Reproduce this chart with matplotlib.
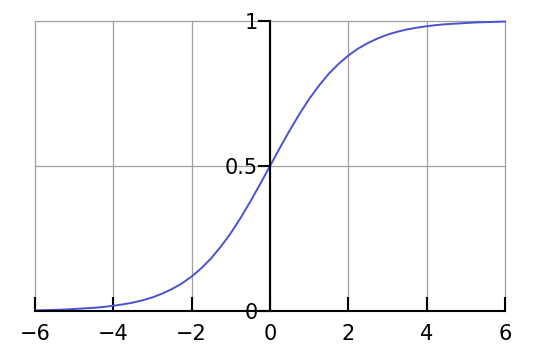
import numpy as np
import matplotlib
matplotlib.use("Agg")
import matplotlib.pyplot as plt

# Curve points
x_vals = np.arange(-6, 6.001, 0.25)
y_vals = [0.002, 0.003, 0.004, 0.005, 0.007, 0.009, 0.011, 0.014, 0.018, 0.023,
          0.029, 0.037, 0.047, 0.060, 0.076, 0.095, 0.119, 0.148, 0.182, 0.223,
          0.269, 0.321, 0.378, 0.438, 0.500,
          0.562, 0.622, 0.679, 0.731, 0.777, 0.818, 0.852, 0.881, 0.905, 0.924,
          0.940, 0.953, 0.963, 0.971, 0.977, 0.982, 0.986, 0.989, 0.991, 0.993,
          0.995, 0.996, 0.997, 0.998]

x_ticks = [-6, -4, -2, 0, 2, 4, 6]
x_tick_labels = ["\u22126", "\u22124", "\u22122", "0", "2", "4", "6"]
y_ticks = [0, 0.5, 1]
y_tick_labels = ["0", "0.5", "1"]

fig = plt.figure(figsize=(5.4, 3.6), dpi=100)
ax = fig.add_axes([35/540, 49/360, 470/540, 290/360])
ax.set_xlim(-6, 6)
ax.set_ylim(0, 1)

# grid
for xv in x_ticks:
    ax.axvline(xv, color="#a0a0a0", lw=0.9, zorder=1, clip_on=False)
for yv in [0.5, 1]:
    ax.axhline(yv, color="#a0a0a0", lw=0.9, zorder=1, clip_on=False)

ax.plot(x_vals, y_vals, color="#4a52d2", lw=1.4, zorder=3, clip_on=False)

for s in ["top", "right"]:
    ax.spines[s].set_visible(False)
ax.spines["left"].set_position(("data", 0))
ax.spines["left"].set_bounds(0, 1)
ax.spines["bottom"].set_position(("data", 0))
for s in ["left", "bottom"]:
    ax.spines[s].set_linewidth(1.5)
    ax.spines[s].set_color("black")
    ax.spines[s].set_zorder(4)

ax.set_xticks(x_ticks)
ax.set_xticklabels(x_tick_labels)
ax.set_yticks(y_ticks)
ax.set_yticklabels(y_tick_labels)
ax.tick_params(axis="x", direction="in", length=10, width=1.5, pad=9, labelsize=15)
ax.tick_params(axis="y", direction="out", length=9, width=1.5, pad=0, labelsize=15)
ax.patch.set_visible(False)

fig.savefig("out.png", dpi=100)
